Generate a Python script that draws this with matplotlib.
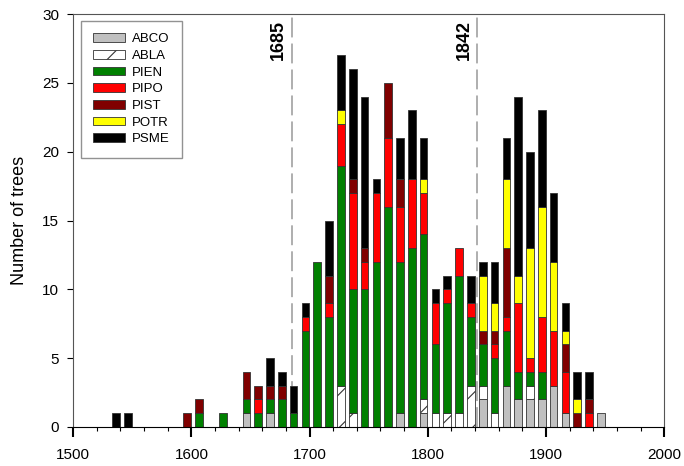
import matplotlib
matplotlib.use('Agg')
import matplotlib.pyplot as plt
import numpy as np
from matplotlib.ticker import MultipleLocator

plt.rcParams['font.family'] = ['Liberation Sans', 'DejaVu Sans']
plt.rcParams['hatch.linewidth'] = 0.8

# decade bins (start year of each decade)
decades = [1530, 1540, 1550, 1560, 1570, 1580, 1590, 1600, 1610, 1620,
           1630, 1640, 1650, 1660, 1670, 1680, 1690, 1700, 1710, 1720,
           1730, 1740, 1750, 1760, 1770, 1780, 1790, 1800, 1810, 1820,
           1830, 1840, 1850, 1860, 1870, 1880, 1890, 1900, 1910, 1920,
           1930, 1940]

# tree counts per decade, one list per species (stacked bottom to top)
abco = [0, 0, 0, 0, 0, 0, 0, 0, 0, 0,
        0, 1, 0, 1, 0, 0, 0, 0, 0, 0,
        0, 0, 0, 0, 1, 0, 1, 0, 0, 0,
        0, 2, 0, 3, 2, 2, 2, 3, 1, 0,
        0, 1]
abla = [0, 0, 0, 0, 0, 0, 0, 0, 0, 0,
        0, 0, 0, 0, 0, 0, 0, 0, 0, 3,
        1, 0, 0, 0, 0, 0, 1, 1, 1, 1,
        3, 1, 1, 0, 0, 1, 0, 0, 0, 0,
        0, 0]
pien = [0, 0, 0, 0, 0, 0, 0, 1, 0, 1,
        0, 1, 1, 1, 2, 1, 7, 12, 8, 16,
        9, 10, 12, 16, 11, 13, 12, 5, 8, 10,
        5, 3, 4, 4, 2, 1, 2, 0, 0, 0,
        0, 0]
pipo = [0, 0, 0, 0, 0, 0, 0, 0, 0, 0,
        0, 0, 1, 0, 0, 0, 1, 0, 1, 3,
        7, 2, 5, 5, 4, 5, 3, 3, 1, 2,
        1, 0, 1, 1, 5, 1, 4, 4, 3, 0,
        1, 0]
pist = [0, 0, 0, 0, 0, 0, 1, 1, 0, 0,
        0, 2, 1, 1, 1, 0, 0, 0, 2, 0,
        1, 1, 0, 4, 2, 0, 0, 0, 0, 0,
        0, 1, 1, 5, 0, 0, 0, 0, 2, 1,
        1, 0]
potr = [0, 0, 0, 0, 0, 0, 0, 0, 0, 0,
        0, 0, 0, 0, 0, 0, 0, 0, 0, 1,
        0, 0, 0, 0, 0, 0, 1, 0, 0, 0,
        0, 4, 2, 5, 2, 8, 8, 5, 1, 1,
        0, 0]
psme = [1, 1, 0, 0, 0, 0, 0, 0, 0, 0,
        0, 0, 0, 2, 1, 2, 1, 0, 4, 4,
        8, 11, 1, 0, 3, 5, 3, 1, 1, 0,
        2, 1, 3, 3, 13, 7, 7, 5, 2, 2,
        2, 0]

species = ['ABCO', 'ABLA', 'PIEN', 'PIPO', 'PIST', 'POTR', 'PSME']
counts = [abco, abla, pien, pipo, pist, potr, psme]
colors = ['#c0c0c0', 'white', '#008000', '#ff0000', '#800000', '#ffff00', '#000000']
hatches = [None, '/', None, None, None, None, None]

fig = plt.figure(figsize=(6.84, 4.66), dpi=100)
ax = fig.add_axes([0.107, 0.0837, 0.864, 0.886])

x = np.array(decades) + 6.5
bottom = np.zeros(len(decades))
for name, vals, col, h in zip(species, counts, colors, hatches):
    vals = np.array(vals, dtype=float)
    m = vals > 0
    ax.bar(x[m], vals[m], width=6.5, bottom=bottom[m], color=col,
           edgecolor='#333333', linewidth=0.6, hatch=h, label=name)
    bottom += vals

# reference years
for yr in [1685, 1842]:
    ax.axvline(yr, color='#999999', lw=1.1, dashes=(13, 4), zorder=0)
    ax.annotate(str(yr), xy=(yr, 30), xytext=(-3.5, -4), textcoords='offset points',
                rotation=90, ha='right', va='top', fontsize=13, fontweight='bold')

ax.set_xlim(1500, 2000)
ax.set_ylim(0, 30)
ax.xaxis.set_major_locator(MultipleLocator(100))
ax.xaxis.set_minor_locator(MultipleLocator(20))
ax.yaxis.set_major_locator(MultipleLocator(5))
ax.tick_params(axis='x', which='major', length=7, width=1.5, pad=8, labelsize=11)
ax.tick_params(axis='x', which='minor', length=3, width=0.8)
ax.tick_params(axis='y', which='major', length=4, width=0.8, pad=6, labelsize=11)
ax.tick_params(top=False, right=False, which='both')

for s in ['top', 'right', 'left']:
    ax.spines[s].set_color('#555555')
ax.spines['bottom'].set_color('black')

ax.set_ylabel('Number of trees', fontsize=13, labelpad=10)

leg = ax.legend(loc='upper left', bbox_to_anchor=(0.013, 0.984), borderaxespad=0,
                fontsize=9.5, handlelength=2.4, handleheight=0.65, handletextpad=0.5,
                labelspacing=0.35, borderpad=0.95, fancybox=False)
leg.get_frame().set_edgecolor('#777777')
leg.get_frame().set_linewidth(1.0)

fig.savefig('out.png', dpi=100)
